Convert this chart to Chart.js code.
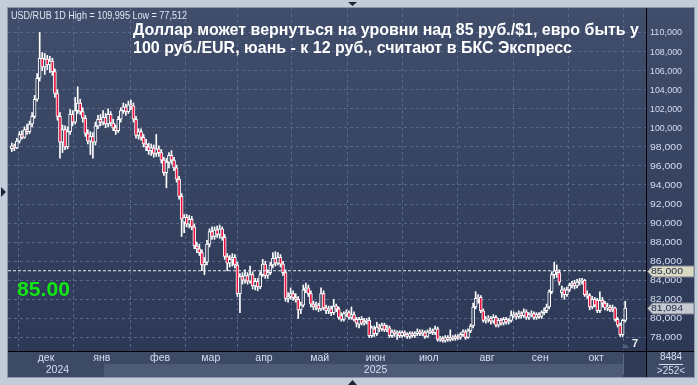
<!DOCTYPE html>
<html>
<head>
<meta charset="utf-8">
<script src="https://cdn.jsdelivr.net/npm/chart.js@4.4.1/dist/chart.umd.min.js"></script>
<style>
  html, body { margin: 0; padding: 0; background: #c3ccd9; }
  #wrap { width: 698px; height: 385px; }
</style>
</head>
<body>
<div id="wrap"><canvas id="myChart" width="698" height="385"></canvas></div>
<script>
var months = ['дек', 'янв', 'фев', 'мар', 'апр', 'май', 'июн', 'июл', 'авг', 'сен', 'окт'];
// first daily bar of every month (bar 0 = 12 Nov 2024)
var monthStart = [14, 36, 59, 79, 100, 122, 144, 165, 188, 209, 231];
var years = ['2024', '2025'];
var yearAt = [18, 143.5];
var priceTicks = [78, 80, 82, 84, 86, 88, 90, 92, 94, 96, 98, 100, 102, 104, 106, 108, 110];
var level = 85;
var headline = ['Доллар может вернуться на уровни над 85 руб./$1, евро быть у',
    '100 руб./EUR, юань - к 12 руб., считают в БКС Экспресс'];
var infoLine = 'USD/RUB 1D High = 109,995 Low = 77,512';

// [open, high, low, close]
var ohlc = [
    [97.8, 98.4, 97.5, 98.1], [98.1, 98.3, 97.6, 97.9], [97.9, 98.9, 97.8, 98.6], [98.6, 99.6, 98.4, 99.3],
    [99.3, 99.7, 98.8, 99.0], [99.0, 100.1, 98.9, 99.8], [99.8, 100.4, 99.3, 99.6], [99.6, 100.7, 99.4, 100.4],
    [100.4, 101.6, 100.1, 101.2], [101.2, 103.4, 101.0, 103.0], [103.0, 105.7, 102.8, 105.2], [105.2, 110.0, 104.9, 107.3],
    [107.3, 107.9, 106.0, 106.4], [106.4, 107.8, 105.6, 107.2], [107.2, 107.6, 106.1, 106.6], [106.6, 107.5, 105.8, 107.0],
    [107.0, 107.3, 105.5, 105.9], [105.9, 106.2, 103.2, 103.6], [103.6, 104.0, 100.8, 101.2], [101.2, 101.6, 96.8, 98.5],
    [98.5, 100.3, 97.4, 99.8], [99.8, 100.2, 97.7, 98.0], [98.0, 100.1, 97.8, 99.6], [99.6, 101.9, 99.3, 101.4],
    [101.4, 101.8, 100.2, 100.6], [100.6, 103.2, 100.4, 101.8], [101.8, 104.3, 101.5, 102.6], [102.6, 103.0, 101.4, 101.7],
    [101.7, 102.1, 100.6, 101.0], [101.0, 101.3, 99.1, 99.4], [99.4, 99.8, 98.3, 98.6], [98.6, 99.6, 97.2, 99.1],
    [99.1, 99.5, 96.8, 98.5], [98.5, 100.6, 98.2, 100.2], [100.2, 101.3, 99.9, 100.9], [100.9, 101.4, 100.2, 100.6],
    [100.6, 101.8, 100.3, 101.1], [101.1, 101.5, 100.0, 100.4], [100.4, 102.0, 100.1, 101.4], [101.4, 101.7, 100.2, 100.5],
    [100.5, 100.9, 99.7, 100.0], [100.0, 100.3, 99.3, 99.7], [99.7, 101.2, 99.5, 100.9], [100.9, 102.1, 100.6, 101.8],
    [101.8, 102.6, 101.5, 102.2], [102.2, 102.5, 101.3, 101.7], [101.7, 102.8, 101.5, 102.4], [102.4, 102.9, 101.9, 102.3],
    [102.3, 102.6, 100.6, 100.9], [100.9, 101.2, 98.9, 99.2], [99.2, 99.9, 98.8, 99.6], [99.6, 99.9, 98.7, 99.0],
    [99.0, 99.3, 98.0, 98.3], [98.3, 98.8, 97.6, 98.0], [98.0, 98.4, 97.2, 97.6], [97.6, 98.3, 97.1, 97.9],
    [97.9, 98.2, 96.9, 97.3], [97.3, 99.3, 97.0, 97.8], [97.8, 98.1, 97.0, 97.4], [97.4, 97.7, 96.3, 96.6],
    [96.6, 96.9, 95.0, 95.3], [95.3, 96.8, 93.7, 96.4], [96.4, 97.4, 95.8, 97.1], [97.1, 97.6, 96.2, 96.6],
    [96.6, 96.9, 95.5, 95.8], [95.8, 96.1, 94.3, 94.6], [94.6, 94.9, 92.5, 92.8], [92.8, 93.1, 88.6, 90.4],
    [90.1, 90.9, 89.0, 90.6], [90.6, 90.9, 89.6, 89.9], [89.9, 90.8, 89.5, 90.4], [90.4, 90.7, 89.3, 89.6],
    [89.6, 89.9, 87.3, 87.6], [87.6, 88.0, 86.9, 87.3], [87.3, 87.8, 86.6, 86.9], [86.9, 87.2, 85.0, 85.6],
    [85.6, 86.4, 84.6, 85.9], [85.9, 88.2, 85.6, 87.8], [87.8, 89.4, 87.5, 89.1], [89.1, 89.6, 88.3, 88.6],
    [88.6, 89.6, 88.3, 89.3], [89.3, 89.7, 88.5, 88.8], [88.8, 89.8, 88.4, 89.4], [89.4, 89.6, 88.2, 88.5],
    [88.5, 88.8, 86.2, 86.5], [86.5, 86.8, 85.0, 85.8], [85.8, 86.6, 85.4, 86.2], [86.2, 86.8, 85.5, 86.4],
    [86.4, 86.7, 85.3, 85.6], [85.6, 85.9, 82.3, 82.6], [82.6, 84.7, 80.6, 84.4], [84.4, 84.8, 83.6, 84.0],
    [84.0, 85.1, 83.7, 84.5], [84.5, 84.8, 83.6, 83.9], [83.9, 85.5, 83.7, 84.6], [84.6, 84.9, 83.1, 83.4],
    [83.4, 84.2, 83.0, 83.9], [83.9, 84.2, 82.9, 83.3], [83.3, 84.9, 83.1, 84.6], [84.6, 86.2, 84.4, 85.7],
    [85.7, 86.0, 84.2, 84.5], [84.5, 85.1, 84.2, 84.8], [84.8, 85.9, 84.6, 85.6], [85.6, 86.9, 85.3, 86.3],
    [86.3, 87.0, 85.5, 85.8], [85.8, 86.9, 85.6, 86.4], [86.4, 86.7, 85.4, 85.7], [85.7, 86.0, 84.5, 84.8],
    [84.8, 85.1, 81.8, 82.1], [82.1, 82.7, 81.7, 82.3], [82.3, 83.2, 82.0, 82.6], [82.6, 82.9, 81.9, 82.2],
    [82.2, 82.6, 81.7, 82.0], [82.0, 82.3, 80.0, 80.9], [80.9, 81.7, 80.5, 81.4], [81.4, 83.5, 81.2, 83.0],
    [83.0, 83.7, 82.7, 83.2], [83.2, 83.5, 82.3, 82.6], [82.6, 82.9, 81.2, 81.5], [81.5, 81.8, 80.9, 81.2],
    [81.2, 81.7, 80.9, 81.4], [81.4, 81.6, 80.7, 81.0], [81.0, 83.2, 80.8, 82.6], [82.6, 82.9, 80.9, 81.1],
    [81.1, 81.4, 80.5, 80.8], [80.8, 81.3, 80.5, 81.0], [81.0, 81.3, 80.3, 80.6], [80.6, 82.0, 80.4, 81.3],
    [81.3, 81.5, 80.7, 81.0], [81.0, 81.2, 79.9, 80.1], [80.3, 80.6, 79.7, 79.9], [79.9, 80.7, 79.7, 80.5],
    [80.5, 80.9, 80.2, 80.6], [80.6, 80.8, 79.9, 80.1], [80.1, 81.2, 79.9, 80.4], [80.4, 80.7, 79.7, 79.9],
    [79.9, 80.1, 79.1, 79.5], [79.4, 80.1, 79.0, 79.9], [79.9, 80.2, 79.3, 79.5], [79.5, 80.0, 79.3, 79.7],
    [79.7, 80.0, 79.4, 79.8], [79.8, 80.1, 78.0, 78.2], [78.2, 79.2, 78.0, 79.0], [78.9, 79.2, 78.1, 78.4],
    [78.4, 79.6, 78.2, 79.1], [79.1, 79.4, 78.6, 78.9], [78.9, 79.5, 78.7, 79.3], [79.3, 79.5, 78.6, 78.8],
    [78.8, 79.3, 78.6, 79.0], [79.0, 79.2, 78.0, 78.2], [78.2, 78.8, 78.0, 78.6], [78.6, 78.8, 78.1, 78.4],
    [78.4, 78.7, 77.8, 78.5], [78.5, 78.7, 78.0, 78.2], [78.2, 78.7, 78.0, 78.5], [78.5, 78.7, 78.1, 78.3],
    [78.3, 78.5, 77.9, 78.1], [78.1, 78.6, 77.9, 78.4], [78.4, 78.6, 78.0, 78.2], [78.2, 78.6, 78.0, 78.4],
    [78.4, 78.9, 78.2, 78.6], [78.6, 78.8, 78.2, 78.4], [78.4, 78.8, 78.2, 78.5], [78.5, 78.7, 77.9, 78.1],
    [78.1, 78.8, 78.0, 78.6], [78.6, 79.0, 78.4, 78.7], [78.7, 78.9, 78.3, 78.5], [78.5, 79.2, 78.3, 78.9],
    [78.9, 79.1, 77.6, 77.8], [77.8, 78.1, 77.6, 77.9], [77.9, 78.1, 77.5, 77.7], [77.7, 78.2, 77.5, 78.0],
    [78.0, 78.2, 77.6, 77.8], [77.8, 78.8, 77.6, 78.0], [78.0, 78.2, 77.7, 77.9], [77.9, 78.3, 77.7, 78.1],
    [78.1, 78.3, 77.8, 78.0], [78.0, 78.5, 77.8, 78.3], [78.3, 78.8, 78.1, 78.6], [78.6, 78.8, 77.8, 78.0],
    [78.0, 78.9, 77.9, 78.7], [78.7, 79.4, 78.5, 79.2], [79.2, 81.6, 79.0, 81.2], [81.2, 82.8, 81.0, 82.1],
    [82.1, 82.5, 81.6, 82.2], [82.2, 82.4, 80.6, 80.8], [80.8, 81.0, 79.6, 79.8], [79.8, 80.2, 79.5, 79.9],
    [79.9, 80.3, 79.6, 80.0], [80.0, 80.2, 79.4, 79.7], [79.7, 80.4, 79.5, 80.1], [80.1, 80.3, 79.1, 79.3],
    [79.3, 80.0, 79.1, 79.8], [79.8, 80.0, 79.3, 79.5], [79.5, 80.1, 79.3, 79.9], [79.9, 80.1, 79.4, 79.6],
    [79.6, 80.0, 79.4, 79.8], [79.8, 80.8, 79.6, 80.3], [80.3, 80.7, 80.1, 80.4], [80.4, 80.6, 79.9, 80.2],
    [80.2, 80.8, 80.0, 80.5], [80.5, 80.7, 80.0, 80.3], [80.3, 81.0, 80.1, 80.7], [80.7, 80.9, 79.9, 80.1],
    [80.1, 80.6, 79.9, 80.4], [80.4, 80.8, 80.2, 80.5], [80.5, 80.7, 79.9, 80.1], [80.1, 80.6, 79.9, 80.4],
    [80.4, 80.6, 80.0, 80.2], [80.2, 80.8, 80.0, 80.6], [80.6, 81.1, 80.4, 80.8], [80.8, 81.5, 80.6, 81.2],
    [81.2, 83.0, 81.0, 82.8], [82.8, 84.9, 82.6, 84.6], [84.6, 85.9, 84.2, 85.0], [85.0, 85.6, 84.3, 84.8],
    [84.8, 85.1, 83.5, 83.8], [82.7, 83.4, 82.2, 83.0], [83.0, 83.2, 82.0, 82.5], [82.5, 83.3, 82.3, 83.0],
    [83.0, 83.7, 82.8, 83.5], [83.5, 83.9, 83.2, 83.7], [83.7, 84.0, 83.1, 83.4], [83.4, 84.1, 83.2, 83.8],
    [83.8, 84.2, 83.5, 83.9], [83.9, 84.2, 83.6, 84.0], [84.0, 84.1, 82.3, 82.5], [82.5, 82.9, 82.1, 82.4],
    [82.4, 82.6, 80.9, 81.2], [81.2, 82.3, 81.0, 82.0], [82.0, 82.2, 81.2, 81.4], [81.9, 82.1, 80.6, 80.8],
    [80.8, 82.8, 80.6, 81.9], [81.9, 82.2, 81.2, 81.6], [81.6, 81.8, 80.9, 81.1], [81.1, 81.6, 80.8, 81.2],
    [81.2, 81.4, 80.7, 80.9], [80.9, 81.4, 80.7, 81.1], [81.1, 81.2, 79.7, 79.9], [79.9, 80.1, 79.1, 79.3],
    [79.3, 79.5, 78.1, 78.3], [78.3, 79.9, 78.1, 79.8], [79.8, 81.8, 79.6, 81.094]
];

var lastClose = ohlc[ohlc.length - 1][3];
var upFill = '#36435f',
    downFill = '#e8123e',
    tickColor = '#d4def0',
    labelFont = '"Liberation Sans", Arial, sans-serif';

function priceLabel(v) {
    return v.toFixed(3).replace('.', ',');
}

// draws text squeezed to the width it has in the reference
function fitText(ctx, text, x, y, width) {
    var w = ctx.measureText(text).width;
    ctx.save();
    ctx.translate(x, y);
    ctx.scale(width / w, 1);
    ctx.fillText(text, 0, 0);
    ctx.restore();
}

function tag(ctx, y, text, fill) {
    ctx.save();
    ctx.fillStyle = fill;
    ctx.strokeStyle = '#7d8290';
    ctx.lineWidth = 1;
    ctx.beginPath();
    ctx.moveTo(647.5, y);
    ctx.lineTo(652.5, y - 5.5);
    ctx.lineTo(694, y - 5.5);
    ctx.lineTo(694, y + 5.5);
    ctx.lineTo(652.5, y + 5.5);
    ctx.closePath();
    ctx.fill();
    ctx.stroke();
    ctx.fillStyle = '#1c2a44';
    ctx.font = '9px ' + labelFont;
    ctx.textBaseline = 'middle';
    fitText(ctx, text, 651, y + 0.5, 32);
    ctx.restore();
}

function triangle(ctx, pts, color) {
    ctx.fillStyle = color;
    ctx.beginPath();
    ctx.moveTo(pts[0], pts[1]);
    ctx.lineTo(pts[2], pts[3]);
    ctx.lineTo(pts[4], pts[5]);
    ctx.closePath();
    ctx.fill();
}

var frame = {
    id: 'frame',
    beforeDraw: function(chart) {
        var ctx = chart.ctx;
        ctx.save();
        ctx.fillStyle = '#c3ccd9';
        ctx.fillRect(0, 0, 698, 385);
        var g = ctx.createLinearGradient(0, 8, 0, 351);
        g.addColorStop(0, '#404e6c');
        g.addColorStop(1, '#2c3856');
        ctx.fillStyle = g;
        ctx.fillRect(8, 8, 686, 343);
        // time axis rows
        ctx.fillStyle = '#3d4a66';
        ctx.fillRect(8, 351, 686, 26);
        ctx.fillStyle = '#4e5b77';
        ctx.fillRect(104, 364, 519, 13);
        ctx.fillStyle = '#2f3b57';
        ctx.fillRect(623, 351, 23, 26);
        ctx.fillStyle = '#5a6782';
        ctx.fillRect(623, 353, 1, 22);
        ctx.strokeStyle = '#8c97a8';
        ctx.lineWidth = 1;
        ctx.strokeRect(7.5, 7.5, 687, 370);
        ctx.restore();
    },
    afterDraw: function(chart) {
        var ctx = chart.ctx,
            x = chart.scales.x,
            y = chart.scales.y,
            i;
        ctx.save();
        ctx.strokeStyle = '#000';
        ctx.lineWidth = 1;
        ctx.beginPath();
        ctx.moveTo(8, 351.5);
        ctx.lineTo(694, 351.5);
        ctx.moveTo(646.5, 8);
        ctx.lineTo(646.5, 377);
        ctx.stroke();

        // price axis labels
        ctx.fillStyle = tickColor;
        ctx.font = '9px ' + labelFont;
        ctx.textAlign = 'left';
        ctx.textBaseline = 'middle';
        for (i = 0; i < priceTicks.length; i++) {
            fitText(ctx, priceLabel(priceTicks[i]), 650, y.getPixelForValue(priceTicks[i]) + 0.5, 32);
        }

        tag(ctx, Math.round(y.getPixelForValue(level)) + 0.5, priceLabel(level), '#d9d9c4');
        tag(ctx, Math.round(y.getPixelForValue(lastClose)) + 0.5, priceLabel(lastClose), '#c6c9d2');

        ctx.fillStyle = tickColor;
        ctx.font = '10.5px ' + labelFont;
        ctx.textAlign = 'center';
        ctx.textBaseline = 'middle';
        for (i = 0; i < years.length; i++) {
            ctx.fillText(years[i], x.getPixelForValue(yearAt[i]), 370.5);
        }
        ctx.font = '10px ' + labelFont;
        ctx.fillText('8484', 671, 357.5);
        ctx.fillText('>252<', 671, 371.5);
        ctx.fillRect(659, 364, 24, 1);

        ctx.font = 'bold 11px ' + labelFont;
        ctx.fillStyle = '#e8ecf4';
        ctx.fillText('7', 635, 344);
        triangle(ctx, [622, 348, 625.5, 344, 629, 348], '#55627e');

        ctx.textAlign = 'left';
        ctx.textBaseline = 'alphabetic';
        ctx.fillStyle = '#dfe6f2';
        ctx.font = '10.5px ' + labelFont;
        fitText(ctx, infoLine, 11, 19, 176);

        ctx.fillStyle = '#ffffff';
        ctx.font = 'bold 17px ' + labelFont;
        fitText(ctx, headline[0], 133, 35, 506);
        fitText(ctx, headline[1], 133, 53, 439);

        ctx.fillStyle = '#12e612';
        ctx.font = 'bold 21px ' + labelFont;
        fitText(ctx, level.toFixed(2), 17, 296, 53);

        triangle(ctx, [348, 2, 357, 2, 352.5, 6], '#1b2438');
        triangle(ctx, [1, 187, 1, 197, 6, 192], '#1b2438');
        triangle(ctx, [348, 385, 357, 385, 352.5, 380], '#1b2438');
        ctx.restore();
    }
};

var ctx = document.getElementById('myChart');

var chart = new Chart(ctx, {
    type: 'bar',
    data: {
        datasets: [
            {
                type: 'line',
                data: [{ x: -1.5, y: level }, { x: 250.2, y: level }],
                borderColor: '#eef0f4',
                borderWidth: 1,
                borderDash: [3, 2],
                pointRadius: 0,
                order: 0
            },
            {
                data: ohlc.map(function(c, i) { return { x: i, y: [c[0], c[3]] }; }),
                backgroundColor: ohlc.map(function(c) { return c[3] < c[0] ? downFill : upFill; }),
                borderColor: '#ffffff',
                borderWidth: 1,
                borderSkipped: false,
                barThickness: 3,
                grouped: false,
                order: 1
            },
            {
                data: ohlc.map(function(c, i) { return { x: i, y: [c[2], c[1]] }; }),
                backgroundColor: '#ffffff',
                borderWidth: 0,
                barThickness: 1,
                grouped: false,
                order: 2
            }
        ]
    },
    options: {
        responsive: false,
        animation: false,
        devicePixelRatio: 1,
        layout: { padding: { left: 8, top: 8, right: 4, bottom: 8 } },
        plugins: {
            legend: { display: false },
            tooltip: { enabled: false }
        },
        scales: {
            x: {
                type: 'linear',
                min: -1.5,
                max: 250.2,
                offset: false,
                grid: { color: '#58688a', drawTicks: false },
                border: { display: false, dash: [3, 3] },
                afterBuildTicks: function(s) {
                    s.ticks = monthStart.map(function(v) { return { value: v - 0.5 }; });
                },
                afterFit: function(s) { s.height = 26; },
                ticks: {
                    autoSkip: false,
                    maxRotation: 0,
                    padding: 1,
                    color: tickColor,
                    font: { family: labelFont, size: 10.5 },
                    callback: function(v, idx) { return months[idx]; }
                }
            },
            y: {
                position: 'right',
                min: 76.58,
                max: 112.57,
                grid: { color: '#58688a', drawTicks: false },
                border: { display: false, dash: [3, 3] },
                afterBuildTicks: function(s) {
                    s.ticks = priceTicks.map(function(v) { return { value: v }; });
                },
                afterFit: function(s) { s.width = 48; },
                ticks: { display: false }
            }
        }
    },
    plugins: [frame]
});
</script>
</body>
</html>
